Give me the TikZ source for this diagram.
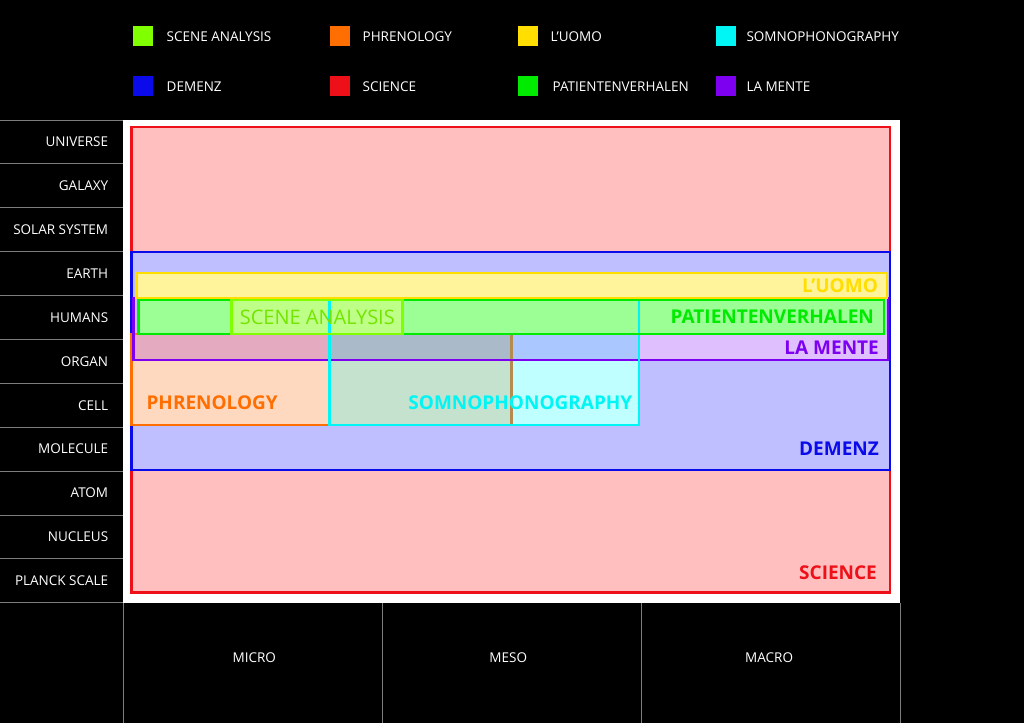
\documentclass[tikz,border=0pt]{standalone}
\usepackage{fontspec}
\setmainfont{Open Sans}
\usetikzlibrary{positioning}
\definecolor{sceneclr}{RGB}{128,255,0}
\definecolor{phrenclr}{RGB}{255,110,0}
\definecolor{uomoclr}{RGB}{255,222,0}
\definecolor{somnoclr}{RGB}{0,245,245}
\definecolor{demenzclr}{RGB}{10,10,235}
\definecolor{scienceclr}{RGB}{238,16,24}
\definecolor{patclr}{RGB}{0,235,0}
\definecolor{menteclr}{RGB}{125,0,240}
\definecolor{gridclr}{RGB}{125,125,125}
\definecolor{sciencefill}{RGB}{255,191,191}
\definecolor{demenzfill}{RGB}{191,191,255}
\definecolor{uomofill}{RGB}{255,243,155}
\definecolor{patfill}{RGB}{155,255,150}
\definecolor{scenefill}{RGB}{190,255,135}
\definecolor{mentefill}{RGB}{224,191,255}
\definecolor{phrenfill}{RGB}{255,217,191}
\definecolor{somnofill}{RGB}{191,255,255}
\definecolor{phrensomno}{RGB}{196,226,206}
\definecolor{mentephren}{RGB}{228,170,192}
\definecolor{mentemix}{RGB}{170,186,200}
\definecolor{mentesomno}{RGB}{170,200,255}
\definecolor{phrenedge}{RGB}{180,140,80}
\begin{document}
\begin{tikzpicture}[x=1pt,y=-1pt,
  whitelbl/.style={white,inner sep=0pt,font=\fontsize{13.5}{16}\selectfont},
  legsq/.style={minimum size=20pt,inner sep=0pt},
  areabox/.style={line width=2.6pt},
  arealbl/.style={inner sep=0pt,font=\fontsize{19}{21}\selectfont\bfseries},
  gridline/.style={gridclr,line width=0.8pt}]
\fill[black] (0,0) rectangle (1024,723);
\fill[white] (123,120) rectangle (900,603);
\node[legsq,fill=sceneclr] (lgscene) at (143,36.5) {};
\node[whitelbl,right=13pt of lgscene] (lgscenet) {SCENE ANALYSIS};
\node[legsq,fill=phrenclr] (lgphren) at (340,36.5) {};
\node[whitelbl,right=12pt of lgphren] (lgphrent) {PHRENOLOGY};
\node[legsq,fill=uomoclr] (lguomo) at (528,36.5) {};
\node[whitelbl,right=12pt of lguomo] (lguomot) {L’UOMO};
\node[legsq,fill=somnoclr] (lgsomno) at (726,36.5) {};
\node[whitelbl,right=10pt of lgsomno] (lgsomnot) {SOMNOPHONOGRAPHY};
\node[legsq,fill=demenzclr] (lgdemenz) at (143,86.5) {};
\node[whitelbl,right=13pt of lgdemenz] (lgdemenzt) {DEMENZ};
\node[legsq,fill=scienceclr] (lgscience) at (340,86.5) {};
\node[whitelbl,right=12pt of lgscience] (lgsciencet) {SCIENCE};
\node[legsq,fill=patclr] (lgpat) at (528,86.5) {};
\node[whitelbl,right=14pt of lgpat] (lgpatt) {PATIENTENVERHALEN};
\node[legsq,fill=menteclr] (lgmente) at (726,86.5) {};
\node[whitelbl,right=10pt of lgmente] (lgmentet) {LA MENTE};
\foreach \lbl [count=\i from 0] in {UNIVERSE,GALAXY,SOLAR SYSTEM,EARTH,HUMANS,ORGAN,CELL,MOLECULE,ATOM,NUCLEUS,PLANCK SCALE}
  \node[whitelbl,anchor=east] (row\i) at (108,142+43.9*\i) {\lbl};
\foreach \i in {0,...,11}
  \draw[gridline] (0,120+43.9*\i) -- (123,120+43.9*\i);
\foreach \x in {123,382,641,900}
  \draw[gridline] (\x,603) -- (\x,723);
\node[whitelbl] (micro) at (254,658) {MICRO};
\node[whitelbl] (meso) at (508,658) {MESO};
\node[whitelbl] (macro) at (769,658) {MACRO};
\fill[sciencefill] (131,127) rectangle (890,593);
\fill[demenzfill] (131,252) rectangle (890,470);
\fill[phrenfill] (131,334) rectangle (511,425);
\fill[somnofill] (329,300) rectangle (639,425);
\fill[phrensomno] (329,360) rectangle (511,425);
\fill[mentefill] (133,334) rectangle (888,360);
\fill[mentephren] (133,334) rectangle (329,360);
\fill[mentemix] (329,334) rectangle (511,360);
\fill[mentesomno] (511,334) rectangle (639,360);
\fill[uomofill] (136,273) rectangle (887,298);
\fill[patfill] (138,300) rectangle (884,334);
\fill[scenefill] (231,300) rectangle (402,334);
\draw[areabox,scienceclr] (131,127) rectangle (890,593);
\draw[areabox,demenzclr] (131,252) rectangle (890,470);
\draw[areabox,phrenclr] (131,334) rectangle (511,425);
\draw[areabox,phrenedge] (511,334) -- (511,425);
\draw[areabox,menteclr] (133,298) rectangle (888,360);
\draw[areabox,uomoclr] (136,273) rectangle (887,298);
\draw[areabox,somnoclr] (329,300) rectangle (639,425);
\draw[areabox,patclr] (138,300) rectangle (884,334);
\draw[areabox,sceneclr] (231,300) rectangle (402,334);
\node[arealbl,anchor=east,text=uomoclr] (uomo) at (878,286) {L’UOMO};
\node[arealbl,anchor=east,text=patclr] (pat) at (874,317) {PATIENTENVERHALEN};
\node[arealbl,anchor=east,text=menteclr] (mente) at (879,348) {LA MENTE};
\node[arealbl,anchor=east,text=demenzclr] (demenz) at (879,449) {DEMENZ};
\node[arealbl,anchor=east,text=scienceclr] (science) at (877,573) {SCIENCE};
\node[arealbl,font=\fontsize{20}{22}\selectfont,text=sceneclr!90!black] (scene) at (317,317) {SCENE ANALYSIS};
\node[arealbl,anchor=west,text=phrenclr] (phren) at (146,403) {PHRENOLOGY};
\node[arealbl,anchor=west,text=somnoclr] (somno) at (408,403) {SOMNOPHONOGRAPHY};
\end{tikzpicture}
\end{document}
